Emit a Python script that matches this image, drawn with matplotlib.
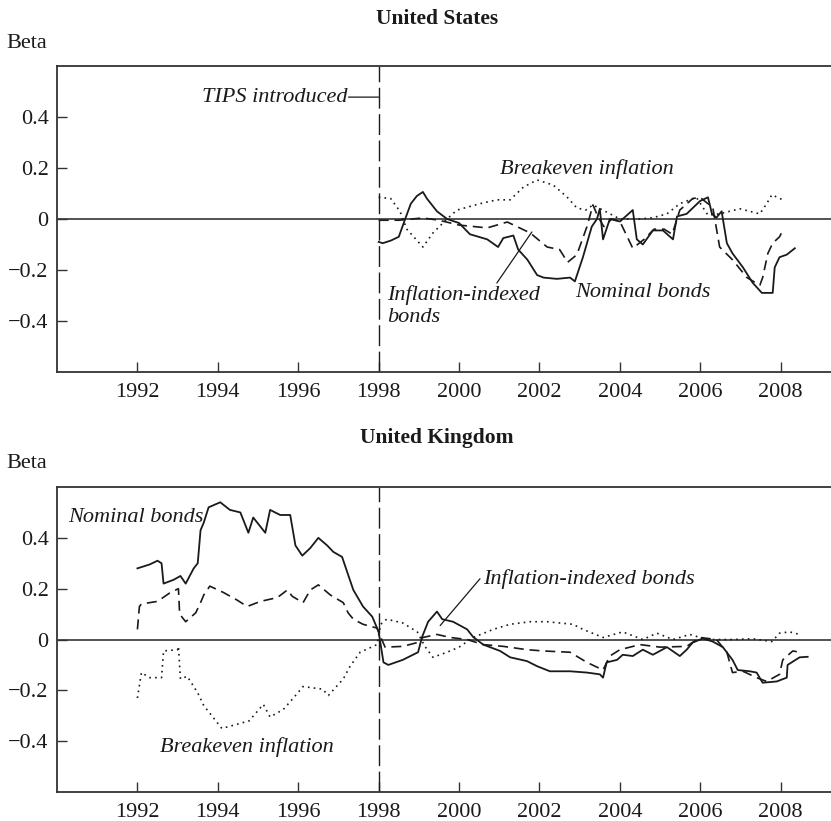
import matplotlib
matplotlib.use("Agg")
import matplotlib.pyplot as plt

plt.rcParams['font.family'] = ['Liberation Serif', 'DejaVu Serif']

# ---------------- United States ----------------
us_nom_x = [1998.0, 1998.1, 1998.3, 1998.5, 1998.66, 1998.8, 1998.95, 1999.1, 1999.2, 1999.45,
            1999.7, 2000.0, 2000.27, 2000.7, 2000.97, 2001.1, 2001.35, 2001.47, 2001.7, 2001.94,
            2002.1, 2002.43, 2002.76, 2002.88, 2003.08, 2003.3, 2003.43, 2003.5, 2003.58, 2003.75,
            2004.0, 2004.32, 2004.42, 2004.57, 2004.82, 2005.07, 2005.32, 2005.42, 2005.66, 2005.99,
            2006.19, 2006.29, 2006.4, 2006.53, 2006.66, 2006.8, 2007.06, 2007.3, 2007.53, 2007.8,
            2007.85, 2007.97, 2008.15, 2008.35]
us_nom_y = [-0.09, -0.095, -0.085, -0.07, 0.0, 0.06, 0.09, 0.106, 0.08, 0.03,
            0.0, -0.016, -0.06, -0.08, -0.11, -0.075, -0.065, -0.12, -0.16, -0.22,
            -0.23, -0.235, -0.23, -0.245, -0.15, -0.03, 0.0, 0.04, -0.08, 0.0,
            -0.01, 0.035, -0.08, -0.1, -0.045, -0.045, -0.08, 0.01, 0.02, 0.07,
            0.085, 0.02, 0.005, 0.03, -0.095, -0.135, -0.19, -0.25, -0.29, -0.29,
            -0.19, -0.15, -0.14, -0.115]

us_iib_x = [1998.0, 1998.5, 1999.1, 1999.5, 2000.0, 2000.7, 2001.2, 2001.77, 2002.19, 2002.5,
            2002.7, 2002.93, 2003.18, 2003.33, 2003.45, 2003.6, 2003.8, 2004.0, 2004.32, 2004.6,
            2004.85, 2005.1, 2005.3, 2005.49, 2005.81, 2005.99, 2006.31, 2006.48, 2006.8, 2007.16,
            2007.48, 2007.55, 2007.68, 2007.8, 2007.97, 2008.05]
us_iib_y = [-0.005, -0.005, 0.004, -0.005, -0.024, -0.035, -0.012, -0.055, -0.11, -0.12,
            -0.17, -0.14, -0.03, 0.055, 0.01, -0.03, 0.0, -0.01, -0.115, -0.08,
            -0.04, -0.04, -0.06, 0.035, 0.08, 0.085, 0.045, -0.11, -0.16, -0.23,
            -0.26, -0.23, -0.135, -0.095, -0.07, -0.045]

us_be_x = [1998.0, 1998.3, 1998.53, 1998.7, 1999.1, 1999.35, 1999.7, 1999.95, 2000.52, 2000.94,
           2001.27, 2001.6, 2001.94, 2002.34, 2002.68, 2002.93, 2003.15, 2003.33, 2003.67, 2004.0,
           2004.5, 2004.82, 2005.17, 2005.49, 2005.9, 2006.19, 2006.48, 2006.98, 2007.48, 2007.65,
           2007.78, 2008.05]
us_be_y = [0.085, 0.08, 0.03, -0.04, -0.11, -0.055, 0.0, 0.035, 0.06, 0.075,
           0.075, 0.125, 0.153, 0.133, 0.087, 0.043, 0.035, 0.055, 0.027, 0.0,
           0.0, 0.005, 0.02, 0.06, 0.085, 0.015, 0.02, 0.04, 0.02, 0.06,
           0.095, 0.075]

# ---------------- United Kingdom ----------------
uk_nom_x = [1992.0, 1992.3, 1992.5, 1992.6, 1992.65, 1992.9, 1993.07, 1993.2, 1993.4, 1993.5,
            1993.57, 1993.65, 1993.77, 1994.06, 1994.3, 1994.56, 1994.76, 1994.88, 1995.18, 1995.3,
            1995.55, 1995.8, 1995.93, 1996.1, 1996.3, 1996.5, 1996.72, 1996.87, 1997.09, 1997.24,
            1997.37, 1997.61, 1997.84, 1998.0, 1998.12, 1998.24, 1998.6, 1998.98, 1999.08, 1999.23,
            1999.45, 1999.58, 1999.85, 2000.2, 2000.35, 2000.6, 2001.02, 2001.27, 2001.69, 2001.94,
            2002.26, 2002.76, 2003.18, 2003.5, 2003.58, 2003.67, 2003.93, 2004.07, 2004.32, 2004.57,
            2004.82, 2005.17, 2005.49, 2005.66, 2005.81, 2006.06, 2006.31, 2006.56, 2006.8, 2006.93,
            2007.23, 2007.4, 2007.55, 2007.9, 2008.15, 2008.17, 2008.47, 2008.67]
uk_nom_y = [0.28, 0.295, 0.31, 0.30, 0.22, 0.235, 0.25, 0.22, 0.28, 0.30,
            0.43, 0.46, 0.52, 0.54, 0.51, 0.50, 0.42, 0.48, 0.42, 0.51,
            0.49, 0.49, 0.37, 0.33, 0.36, 0.40, 0.37, 0.345, 0.325, 0.255,
            0.195, 0.13, 0.09, 0.03, -0.09, -0.10, -0.08, -0.05, 0.01, 0.07,
            0.11, 0.08, 0.07, 0.04, 0.01, -0.02, -0.045, -0.07, -0.085, -0.105,
            -0.125, -0.125, -0.13, -0.137, -0.15, -0.09, -0.08, -0.06, -0.065, -0.04,
            -0.06, -0.03, -0.065, -0.04, -0.012, 0.004, -0.008, -0.03, -0.08, -0.12,
            -0.125, -0.13, -0.17, -0.165, -0.15, -0.10, -0.07, -0.068]

uk_iib_x = [1992.0, 1992.05, 1992.1, 1992.5, 1992.82, 1993.02, 1993.05, 1993.2, 1993.45, 1993.57,
            1993.65, 1993.8, 1994.14, 1994.48, 1994.73, 1995.06, 1995.48, 1995.73, 1995.85, 1996.12,
            1996.3, 1996.5, 1996.8, 1997.12, 1997.24, 1997.37, 1997.61, 1997.96, 1998.05, 1998.16,
            1998.6, 1998.96, 1999.1, 1999.45, 1999.78, 2000.2, 2000.6, 2001.1, 2001.69, 2002.09,
            2002.76, 2003.18, 2003.58, 2003.75, 2004.0, 2004.5, 2005.0, 2005.66, 2005.99, 2006.4,
            2006.66, 2006.8, 2007.06, 2007.4, 2007.65, 2007.97, 2008.05, 2008.3, 2008.47]
uk_iib_y = [0.04, 0.13, 0.14, 0.15, 0.185, 0.2, 0.1, 0.07, 0.105, 0.145,
            0.175, 0.21, 0.185, 0.155, 0.13, 0.15, 0.165, 0.195, 0.17, 0.145,
            0.195, 0.215, 0.175, 0.145, 0.105, 0.08, 0.06, 0.045, 0.01, -0.03,
            -0.027, -0.012, 0.008, 0.02, 0.008, 0.0, -0.02, -0.027, -0.04, -0.045,
            -0.05, -0.09, -0.12, -0.065, -0.04, -0.02, -0.03, -0.027, 0.008, 0.0,
            -0.05, -0.13, -0.125, -0.15, -0.165, -0.137, -0.08, -0.045, -0.05]

uk_be_x = [1992.0, 1992.1, 1992.3, 1992.6, 1992.65, 1993.0, 1993.02, 1993.07, 1993.24, 1993.5,
           1993.65, 1994.1, 1994.78, 1995.13, 1995.3, 1995.63, 1995.88, 1996.12, 1996.35, 1996.6,
           1996.75, 1997.12, 1997.29, 1997.54, 1997.96, 1998.05, 1998.2, 1998.6, 1998.96, 1999.15,
           1999.35, 1999.7, 2000.0, 2000.35, 2000.85, 2001.27, 2001.77, 2002.19, 2002.83, 2003.08,
           2003.58, 2004.07, 2004.57, 2004.92, 2005.32, 2005.74, 2006.16, 2006.8, 2007.3, 2007.78,
           2007.97, 2008.22, 2008.47]
uk_be_y = [-0.23, -0.13, -0.15, -0.15, -0.045, -0.04, -0.027, -0.155, -0.145, -0.21,
           -0.26, -0.35, -0.32, -0.255, -0.305, -0.275, -0.23, -0.185, -0.19, -0.195,
           -0.22, -0.155, -0.105, -0.05, -0.02, 0.06, 0.08, 0.065, 0.03, -0.027,
           -0.07, -0.05, -0.03, 0.008, 0.04, 0.06, 0.07, 0.07, 0.06, 0.04,
           0.008, 0.03, 0.0, 0.025, 0.0, 0.02, 0.0, 0.0, 0.003, -0.008,
           0.025, 0.03, 0.02]

y_ticks = [-0.4, -0.2, 0, 0.2, 0.4]
y_tick_labels = ['\u22120.4', '\u22120.2', '0', '0.2', '0.4']
x_ticks = [1992, 1994, 1996, 1998, 2000, 2002, 2004, 2006, 2008]
tips_year = 1998.0

fig = plt.figure(figsize=(8.31, 8.21), dpi=100)
ax1 = fig.add_axes([0.0686, 0.547, 0.9314, 0.3726])
ax2 = fig.add_axes([0.0686, 0.0353, 0.9314, 0.3715])

ink = '#1a1a1a'
FS = 16

for ax in (ax1, ax2):
    ax.set_xlim(1990, 2009.25)
    ax.set_ylim(-0.6, 0.6)
    ax.spines['right'].set_visible(False)
    for s in ('left', 'top', 'bottom'):
        ax.spines[s].set_color('#333333')
        ax.spines[s].set_linewidth(1.3)
    ax.set_yticks(y_ticks)
    ax.set_yticklabels(y_tick_labels)
    ax.set_xticks(x_ticks)
    ax.set_xticklabels([str(t) for t in x_ticks])
    ax.tick_params(direction='in', length=7, width=1.0, colors='#333333',
                   labelsize=FS, labelcolor=ink, pad=6)
    ax.tick_params(axis='x', pad=8)
    ax.axhline(0, color='#444444', lw=1.3, zorder=1)
    ax.axvline(tips_year, color=ink, lw=1.0, dashes=(15, 4), zorder=2)

# US
ax1.plot(us_nom_x, us_nom_y, color=ink, lw=1.3, zorder=3)
ax1.plot(us_iib_x, us_iib_y, color=ink, lw=1.2, dashes=(6, 3.5), zorder=3)
ax1.plot(us_be_x, us_be_y, color=ink, lw=1.2, dashes=(1, 2.5), zorder=3)

# UK
ax2.plot(uk_nom_x, uk_nom_y, color=ink, lw=1.3, zorder=3)
ax2.plot(uk_iib_x, uk_iib_y, color=ink, lw=1.2, dashes=(6, 3.5), zorder=3)
ax2.plot(uk_be_x, uk_be_y, color=ink, lw=1.2, dashes=(1, 2.5), zorder=3)

# titles and "Beta"
fig.text(0.526, 0.977, 'United States', ha='center', va='center', fontsize=15.5,
         fontweight='bold', color=ink)
fig.text(0.526, 0.466, 'United Kingdom', ha='center', va='center', fontsize=15.5,
         fontweight='bold', color=ink)
fig.text(0.008, 0.947, 'Beta', ha='left', va='center', fontsize=FS, color=ink)
fig.text(0.008, 0.435, 'Beta', ha='left', va='center', fontsize=FS, color=ink)

lk = dict(arrowstyle='-', color=ink, lw=0.9, shrinkA=0, shrinkB=0)

# US annotations
ax1.text(1997.22, 0.478, 'TIPS introduced', ha='right', va='center',
         fontsize=FS, style='italic', color=ink)
ax1.annotate('', xy=(tips_year, 0.478), xytext=(1997.25, 0.478), arrowprops=lk)
ax1.text(2003.18, 0.196, 'Breakeven inflation', ha='center', va='center',
         fontsize=FS, style='italic', color=ink)
ax1.text(1998.21, -0.343, 'Inflation-indexed\nbonds', ha='left', va='center',
         fontsize=FS, style='italic', color=ink, linespacing=1.2)
ax1.annotate('', xy=(2001.81, -0.051), xytext=(2000.94, -0.251), arrowprops=lk)
ax1.text(2002.88, -0.29, 'Nominal bonds', ha='left', va='center',
         fontsize=FS, style='italic', color=ink)

# UK annotations
ax2.text(1990.28, 0.482, 'Nominal bonds', ha='left', va='center',
         fontsize=FS, style='italic', color=ink)
ax2.text(2000.6, 0.239, 'Inflation-indexed bonds', ha='left', va='center',
         fontsize=FS, style='italic', color=ink)
ax2.annotate('', xy=(1999.53, 0.055), xytext=(2000.52, 0.239), arrowprops=lk)
ax2.text(1994.73, -0.424, 'Breakeven inflation', ha='center', va='center',
         fontsize=FS, style='italic', color=ink)

fig.savefig('out.png', dpi=100)
